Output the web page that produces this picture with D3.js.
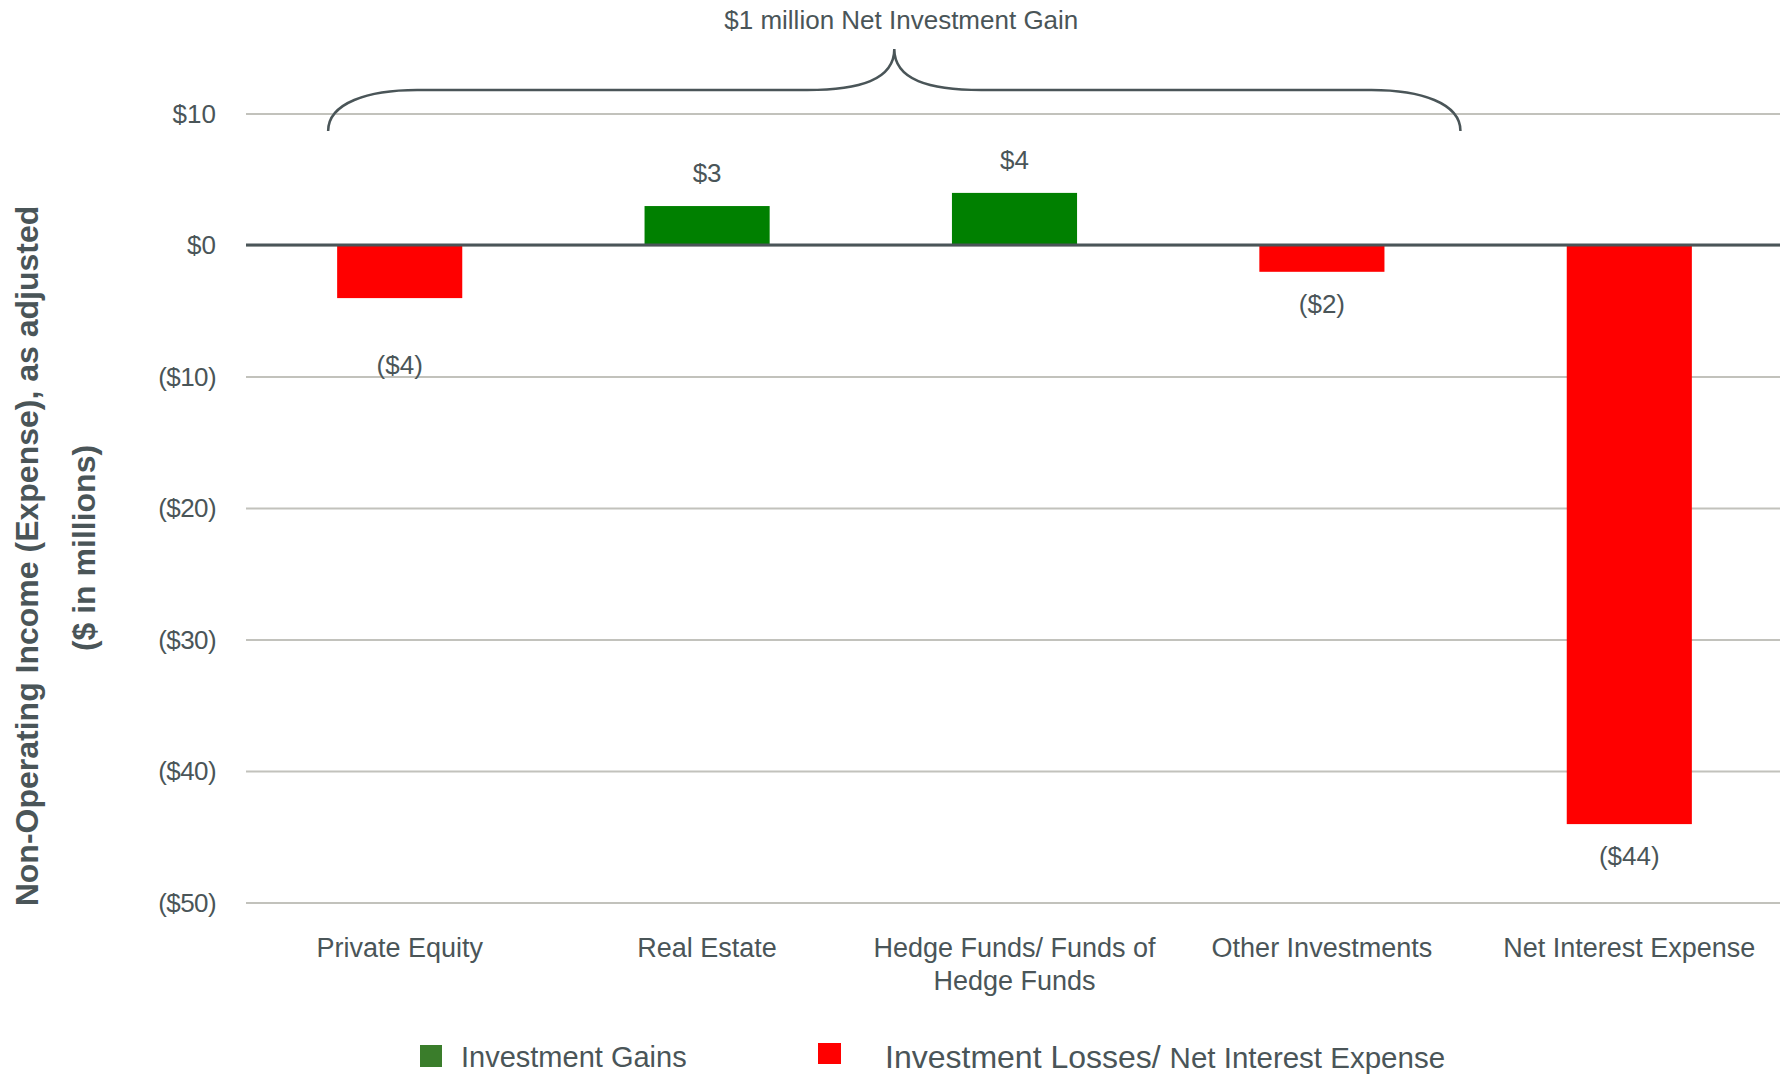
<!DOCTYPE html>
<html>
<head>
<meta charset="utf-8">
<script src="https://cdn.jsdelivr.net/npm/d3@7"></script>
<style>
    body { margin: 0; background: #ffffff; }
    text { font-family: "Liberation Sans", Arial, sans-serif; fill: #4a5558; }
</style>
</head>
<body>
<svg class="rend_chart"></svg>
<script>
/////////////// data ////////////////
const CATEGORIES = ["Private Equity", "Real Estate", "Hedge Funds/ Funds of Hedge Funds", "Other Investments", "Net Interest Expense"];
const VALUES = [-4, 3, 4, -2, -44];
const VALUE_LABELS = ["($4)", "$3", "$4", "($2)", "($44)"];
const Y_TICKS = [10, 0, -10, -20, -30, -40, -50];
const Y_TICK_LABELS = ["$10", "$0", "($10)", "($20)", "($30)", "($40)", "($50)"];
const LEGEND_LABELS = ["Investment Gains", "Investment Losses/", "Net Interest Expense"];
const BRACE_LABEL = "$1 million Net Investment Gain";
const Y_TITLE = ["Non-Operating Income (Expense), as adjusted", "($ in millions)"];

/////////////// layout ////////////////
const W = 1780;
const H = 1075;
const PLOT_L = 246;
const PLOT_R = 1783;
const PLOT_T = 114;
const PLOT_B = 903;
const GRID_COL = "#c2c2bc";
const LINE_COL = "#4a5558";
const GAIN_FILL = "#008000";
const LOSS_FILL = "#ff0000";
const LEG_GAIN_FILL = "#3a7d2b";
// the private equity label sits lower than the others
const LABEL_NUDGE = { "Private Equity": 35 };

const SVG = d3.select(".rend_chart")
    .attr("width", W)
    .attr("height", H);

const SCL_X = d3.scaleBand()
    .domain(CATEGORIES)
    .range([PLOT_L, PLOT_R])
    .paddingInner(0.593)
    .paddingOuter(0.2965);
const SCL_Y = d3.scaleLinear()
    .domain([-50, 10])
    .range([PLOT_B, PLOT_T]);

/////////////// grid ////////////////
const GRID_GRP = SVG.append("g").attr("id", "gridGroup");
GRID_GRP.selectAll("line")
    .data(Y_TICKS)
    .enter()
    .append("line")
    .attr("x1", PLOT_L)
    .attr("x2", W)
    .attr("y1", d => SCL_Y(d))
    .attr("y2", d => SCL_Y(d))
    .attr("stroke", GRID_COL)
    .attr("stroke-width", 2);
GRID_GRP.selectAll("text")
    .data(Y_TICKS)
    .enter()
    .append("text")
    .attr("x", 216)
    .attr("y", d => SCL_Y(d))
    .attr("dy", "0.34em")
    .attr("text-anchor", "end")
    .attr("font-size", 26)
    .attr("letter-spacing", d => d < 0 ? -0.6 : 0)
    .text((d, i) => Y_TICK_LABELS[i]);

/////////////// bars ////////////////
const BAR_GRP = SVG.append("g").attr("id", "barGroup");
BAR_GRP.selectAll("rect")
    .data(VALUES)
    .enter()
    .append("rect")
    .attr("x", (d, i) => SCL_X(CATEGORIES[i]))
    .attr("width", SCL_X.bandwidth())
    .attr("y", d => SCL_Y(Math.max(0, d)))
    .attr("height", d => Math.abs(SCL_Y(d) - SCL_Y(0)))
    .attr("fill", d => d >= 0 ? GAIN_FILL : LOSS_FILL);

// zero line drawn over the bars
SVG.append("line")
    .attr("x1", PLOT_L)
    .attr("x2", W)
    .attr("y1", SCL_Y(0) - 0.5)
    .attr("y2", SCL_Y(0) - 0.5)
    .attr("stroke", LINE_COL)
    .attr("stroke-width", 3);

// value labels
BAR_GRP.selectAll("text")
    .data(VALUES)
    .enter()
    .append("text")
    .attr("x", (d, i) => SCL_X(CATEGORIES[i]) + SCL_X.bandwidth() / 2)
    .attr("y", (d, i) => d >= 0
        ? SCL_Y(d) - 24
        : SCL_Y(d) + 41 + (LABEL_NUDGE[CATEGORIES[i]] || 0))
    .attr("text-anchor", "middle")
    .attr("font-size", 26)
    .text((d, i) => VALUE_LABELS[i]);

/////////////// category labels ////////////////
const CAT_GRP = SVG.append("g").attr("id", "categoryGroup");
CAT_GRP.selectAll("text")
    .data(CATEGORIES)
    .enter()
    .append("text")
    .attr("x", d => SCL_X(d) + SCL_X.bandwidth() / 2)
    .attr("y", 957)
    .attr("text-anchor", "middle")
    .attr("font-size", 27)
    .each(function (d) {
        // wrap words into lines no wider than a band step
        const el = d3.select(this);
        const words = d.split(" ");
        let line = [];
        let tspan = el.append("tspan").attr("x", el.attr("x")).attr("dy", 0);
        words.forEach(w => {
            line.push(w);
            tspan.text(line.join(" "));
            if (tspan.node().getComputedTextLength() > 295 && line.length > 1) {
                line.pop();
                tspan.text(line.join(" "));
                line = [w];
                tspan = el.append("tspan").attr("x", el.attr("x")).attr("dy", 33).text(w);
            }
        });
    });

/////////////// brace ////////////////
const BR_L = SCL_X(CATEGORIES[0]) - 9;
const BR_R = SCL_X(CATEGORIES[3]) + SCL_X.bandwidth() + 76;
const BR_M = (BR_L + BR_R) / 2;
const BR_END_Y = 131;
const BR_MID_Y = 90;
const BR_TIP_Y = 49;
const BRACE_PATH = d3.path();
BRACE_PATH.moveTo(BR_L, BR_END_Y);
BRACE_PATH.bezierCurveTo(BR_L, 103, BR_L + 40, BR_MID_Y, BR_L + 89, BR_MID_Y);
BRACE_PATH.lineTo(BR_M - 87, BR_MID_Y);
BRACE_PATH.bezierCurveTo(BR_M - 35, BR_MID_Y, BR_M, 80, BR_M, BR_TIP_Y);
BRACE_PATH.bezierCurveTo(BR_M, 80, BR_M + 35, BR_MID_Y, BR_M + 87, BR_MID_Y);
BRACE_PATH.lineTo(BR_R - 89, BR_MID_Y);
BRACE_PATH.bezierCurveTo(BR_R - 40, BR_MID_Y, BR_R, 103, BR_R, BR_END_Y);
SVG.append("path")
    .attr("d", BRACE_PATH.toString())
    .attr("fill", "none")
    .attr("stroke", LINE_COL)
    .attr("stroke-width", 2.5);
SVG.append("text")
    .attr("x", BR_M + 7)
    .attr("y", 29)
    .attr("text-anchor", "middle")
    .attr("font-size", 26)
    .text(BRACE_LABEL);

/////////////// y title ////////////////
const Y_TITLE_GRP = SVG.append("g")
    .attr("transform", "rotate(-90)");
Y_TITLE_GRP.selectAll("text")
    .data(Y_TITLE)
    .enter()
    .append("text")
    .attr("x", (d, i) => i == 0 ? -556 : -548)
    .attr("y", (d, i) => i == 0 ? 38 : 95)
    .attr("text-anchor", "middle")
    .attr("font-size", 32)
    .attr("font-weight", "bold")
    .text(d => d);

/////////////// legend ////////////////
const LEG_GRP = SVG.append("g").attr("id", "legendGroup");
LEG_GRP.append("rect")
    .attr("x", 420).attr("y", 1045)
    .attr("width", 22).attr("height", 22)
    .attr("fill", LEG_GAIN_FILL);
LEG_GRP.append("text")
    .attr("x", 461).attr("y", 1067)
    .attr("font-size", 29)
    .text(LEGEND_LABELS[0]);
LEG_GRP.append("rect")
    .attr("x", 818).attr("y", 1043)
    .attr("width", 23).attr("height", 21)
    .attr("fill", LOSS_FILL);
const LEG_LOSS_TXT = LEG_GRP.append("text")
    .attr("x", 885).attr("y", 1068);
LEG_LOSS_TXT.append("tspan")
    .attr("font-size", 32)
    .text(LEGEND_LABELS[1] + " ");
LEG_LOSS_TXT.append("tspan")
    .attr("font-size", 29.5)
    .text(LEGEND_LABELS[2]);
</script>
</body>
</html>
